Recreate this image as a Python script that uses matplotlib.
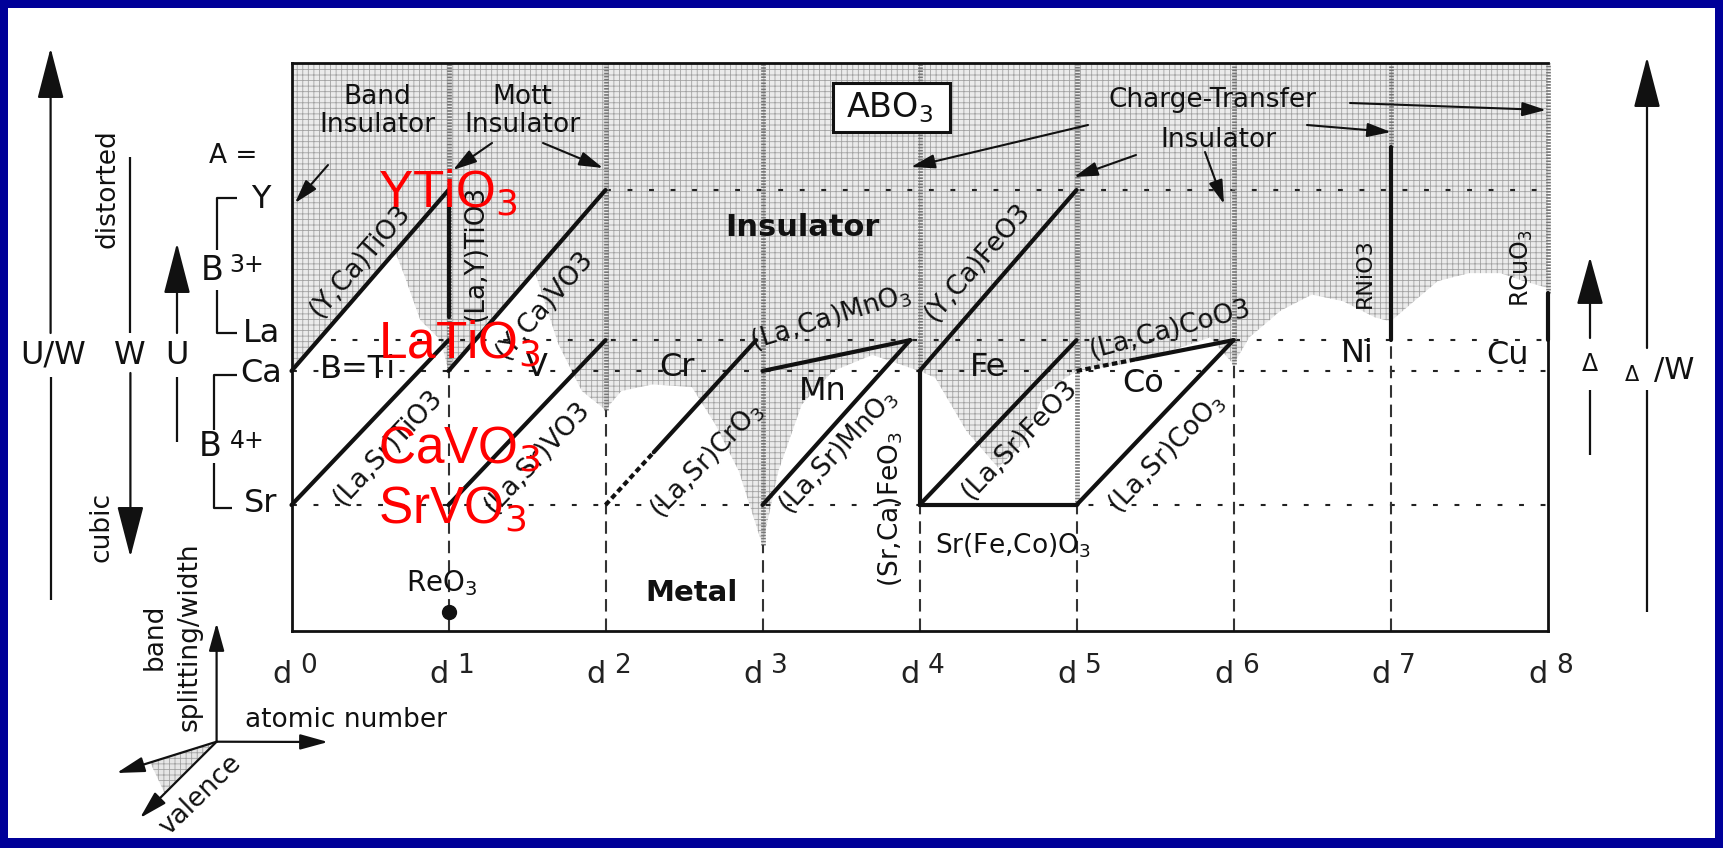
import matplotlib
matplotlib.use("Agg")
import matplotlib.pyplot as plt
from matplotlib.patches import Rectangle, Polygon

plt.rcParams['font.family'] = ['DejaVu Sans']
plt.rcParams['mathtext.fontset'] = 'dejavusans'
plt.rcParams['lines.scale_dashes'] = False
plt.rcParams['hatch.linewidth'] = 0.6

# d electron count along the bottom
d_count = [0, 1, 2, 3, 4, 5, 6, 7, 8]

# A site levels (up = more distorted / smaller band width)
site_names = ['Sr', 'Ca', 'La', 'Y']
site_levels = [0.0, 1.0, 1.23, 2.35]
SR, CA, LA, Y = site_levels

# compound lines, start (d, level) -> end (d, level)
comp_names = ['(Y,Ca)TiO3', '(La,Sr)TiO3', '(La,Y)TiO3', '(Y,Ca)VO3', '(La,Sr)VO3',
              '(La,Sr)CrO3', '(La,Ca)MnO3', '(La,Sr)MnO3', '(Y,Ca)FeO3', '(Sr,Ca)FeO3',
              'Sr(Fe,Co)O3', '(La,Sr)FeO3', '(La,Ca)CoO3', '(La,Sr)CoO3', 'RNiO3', 'RCuO3']
comp_x0 = [0, 0, 1, 1, 1, 2, 3, 3, 4, 4, 4, 4, 5, 5, 7, 8]
comp_y0 = [CA, SR, Y, CA, SR, SR, CA, SR, CA, CA, SR, SR, CA, SR, LA, LA]
comp_x1 = [1, 1, 1, 2, 2, 2.96, 3.94, 3.94, 5, 4, 5, 5, 6, 6, 7, 8]
comp_y1 = [Y, LA, 1.40, Y, LA, LA, LA, LA, Y, SR, SR, LA, LA, LA, 2.67, 1.58]
# fraction of each line (from its start) that is only dashed
comp_dashed = [0, 0, 0, 0, 0, 0.32, 0, 0, 0, 0, 0, 0, 0.38, 0, 0, 0]

# lower edge of the shaded insulator region
ins_x = [0.0, 0.66, 0.72, 0.82, 0.95, 1.0, 1.55, 1.7, 1.85, 2.0, 2.1, 2.3, 2.55, 2.7,
         2.85, 3.0, 3.1, 3.25, 3.45, 3.7, 4.0, 4.1, 4.3, 4.5, 4.65, 4.8, 5.0, 5.3,
         5.6, 5.85, 6.0, 6.1, 6.3, 6.5, 6.7, 6.9, 7.0, 7.1, 7.3, 7.5, 7.7, 7.85, 8.0]
ins_y = [1.0, 1.89, 1.71, 1.38, 1.23, 1.0, 1.74, 1.2, 0.85, 0.71, 0.85, 0.9, 0.88, 0.6,
         0.25, -0.30, 0.25, 0.75, 1.0, 1.12, 1.0, 0.95, 0.55, 0.28, 0.45, 0.85, 1.0, 1.05,
         1.15, 1.25, 1.05, 1.25, 1.45, 1.57, 1.52, 1.40, 1.37, 1.47, 1.67, 1.73, 1.73, 1.67, 1.62]

# d^n separators: insulating (stippled) from the top down to this level, dashed below
sep_x = [1, 2, 3, 4, 5, 6, 7, 8]
sep_gray_to = [1.0, 0.71, -0.30, 1.0, 0.0, 1.05, 2.67, 1.58]

# horizontal guide lines at the A-site levels: where each starts
guide_start = [0, 0, 0.25, 2]

reo3_x, reo3_y = [1], [-0.80]

Y_BOT, Y_TOP = -0.94, 3.30
W, H = 1723, 848

fig = plt.figure(figsize=(W / 100, H / 100), dpi=100)
fig.patch.set_facecolor('#000099')
fig.add_artist(Rectangle((8 / W, 10 / H), (W - 16) / W, (H - 18) / H, transform=fig.transFigure,
                         facecolor='white', edgecolor='none', zorder=-1))

ax = fig.add_axes([291.5 / W, (H - 631) / H, 1256 / W, 568.3 / H])
ax.set_xlim(0, 8)
ax.set_ylim(Y_BOT, Y_TOP)
ax.set_xticks([])
ax.set_yticks([])
ax.patch.set_facecolor('white')
ax.spines['right'].set_visible(False)
for s in ['left', 'top', 'bottom']:
    ax.spines[s].set_linewidth(2.0)
    ax.spines[s].set_color('#111111')
    ax.spines[s].set_zorder(6)

# shaded insulator region
ax.fill(ins_x + [8, 0], ins_y + [Y_TOP, Y_TOP], facecolor='#ebebeb', edgecolor='#a2a2a2',
        hatch='+++', linewidth=0, zorder=1)

# guide lines
for lev, x0 in zip(site_levels, guide_start):
    ax.plot([x0, 8], [lev, lev], color='#222222', lw=1.5, linestyle=(0, (3.5, 12)), zorder=2)

# separators
for x, g in zip(sep_x, sep_gray_to):
    ax.plot([x, x], [g, Y_TOP], color='#777777', lw=3.4, linestyle=(0, (1.2, 1.0)),
            zorder=3, clip_on=False)
    if x < 8:
        ax.plot([x, x], [Y_BOT, g], color='#333333', lw=1.5, linestyle=(0, (9, 5)), zorder=3)
# right edge of the box below the Cu line
ax.plot([8, 8], [Y_BOT, LA], color='#111111', lw=2.0, clip_on=False, zorder=6)

# compound lines
for x0, y0, x1, y1, f in zip(comp_x0, comp_y0, comp_x1, comp_y1, comp_dashed):
    xm = x0 + f * (x1 - x0)
    ym = y0 + f * (y1 - y0)
    if f > 0:
        ax.plot([x0, xm], [y0, ym], color='#111111', lw=3.0, linestyle=(0, (4, 2.5)),
                solid_capstyle='butt', zorder=5, clip_on=False)
    ax.plot([xm, x1], [ym, y1], color='#111111', lw=3.0, solid_capstyle='round',
            zorder=5, clip_on=False)

ax.plot(reo3_x, reo3_y, 'o', color='#111111', ms=10, zorder=5)

# d^n labels under the box
for d in d_count:
    ax.annotate('d', xy=(d, Y_BOT), xytext=(0, -37.4), textcoords='offset points',
                ha='right', va='baseline', fontsize=22, color='#222222', annotation_clip=False)
    ax.annotate(str(d), xy=(d, Y_BOT), xytext=(6.0, -30.2), textcoords='offset points',
                ha='left', va='baseline', fontsize=19, color='#222222', annotation_clip=False)

# everything else is placed in figure pixels
deco = fig.add_axes([0, 0, 1, 1])
deco.set_xlim(0, W)
deco.set_ylim(H, 0)
deco.axis('off')

K = '#111111'


def txt(x, y, s, size=19, rot=0, **kw):
    deco.text(x, y, s, fontsize=size, rotation=rot, rotation_mode='anchor',
              ha=kw.pop('ha', 'center'), va=kw.pop('va', 'center'), color=kw.pop('color', K), **kw)


def arrow(tail, tip, hl=1.45, hw=0.43, lw=1.5):
    deco.annotate('', xy=tip, xytext=tail,
                  arrowprops=dict(arrowstyle='-|>,head_length=%g,head_width=%g' % (hl, hw),
                                  mutation_scale=10, lw=lw, color=K, shrinkA=0, shrinkB=0))


def seg(xs, ys, lw=1.6):
    deco.plot(xs, ys, color=K, lw=lw, solid_capstyle='butt')


# regime labels
txt(377, 111, 'Band\nInsulator', 19, linespacing=1.05)
txt(522, 111, 'Mott\nInsulator', 19, linespacing=1.05)
txt(1212, 100, 'Charge-Transfer', 19)
txt(1218, 140, 'Insulator', 19)
txt(802, 227, 'Insulator', 22, weight='bold')
txt(692, 593, 'Metal', 21, weight='bold')
deco.add_patch(Rectangle((833, 83), 117, 49, facecolor='white', edgecolor=K, lw=2.2, zorder=4))
txt(890, 108, 'ABO$_3$', 24, zorder=5)

arrow((328, 165), (295, 203))
arrow((492, 143), (453, 170))
arrow((543, 143), (603, 168))
arrow((1088, 125), (911, 167))
arrow((1136, 155), (1074, 177))
arrow((1205, 152), (1224, 204))
arrow((1307, 125), (1391, 132))
arrow((1350, 103), (1546, 110))

# element / compound labels
for s, x, y in [('Cr', 677, 368), ('Mn', 823, 392), ('Fe', 988, 367), ('Co', 1143, 383),
                ('Ni', 1357, 353), ('Cu', 1507, 355), ('V', 537, 368), ('B=Ti', 358, 370)]:
    txt(x, y, s, 23)

for s, x, y, r, fs in [('(Y,Ca)TiO3', 360, 261, 49, 19), ('(La,Sr)TiO3', 388, 447, 47, 19),
                       ('(La,Y)TiO3', 476, 253, 90, 19), ('(Y,Ca)VO3', 545, 305, 49, 19),
                       ('(La,Sr)VO3', 537, 457, 47, 19), ('(La,Sr)CrO$_3$', 707, 460, 46, 19),
                       ('(La,Ca)MnO$_3$', 831, 318, 17, 19), ('(La,Sr)MnO$_3$', 838, 452, 47, 19),
                       ('(Sr,Ca)FeO$_3$', 891, 509, 90, 19), ('(Y,Ca)FeO3', 978, 262, 49, 19),
                       ('Sr(Fe,Co)O$_3$', 1013, 546, 0, 19), ('(La,Sr)FeO3', 1020, 440, 46, 19),
                       ('(La,Ca)CoO3', 1170, 330, 15, 19), ('(La,Sr)CoO$_3$', 1167, 453, 46, 19),
                       ('RNiO3', 1365, 273, 90, 16), ('RCuO$_3$', 1522, 268, 90, 17),
                       ('ReO$_3$', 442, 583, 0, 20)]:
    txt(x, y, s, fs, rot=r)

# red highlights
for s, y in [('YTiO$_3$', 207), ('LaTiO$_3$', 358), ('CaVO$_3$', 463), ('SrVO$_3$', 523)]:
    deco.text(378, y, s, fontsize=37, color='red', family='Liberation Sans',
              ha='left', va='baseline', zorder=8)

# left side: A site levels and brackets
for name, yp in zip(site_names, [503, 374, 334, 200]):
    txt(261, yp, name, 23)
txt(233, 156, 'A =', 19)
seg([237, 217, 217], [198, 198, 250])
seg([217, 217, 237], [290, 333, 333])
txt(212, 270, 'B', 24)
txt(247, 265, '3+', 17)
seg([237, 214, 214], [375, 375, 430])
seg([214, 214, 232], [463, 508, 508])
txt(210, 447, 'B', 24)
txt(247, 441, '4+', 17)

# U/W, W, U arrows
arrow((50.6, 333), (50.6, 48), hl=3.2, hw=0.83, lw=1.6)
seg([50.6, 50.6], [377, 600])
txt(53, 355, 'U/W', 23)
seg([130.4, 130.4], [157, 333])
arrow((130.4, 373), (130.4, 557), hl=3.2, hw=0.83, lw=1.6)
txt(130, 355, 'W', 23)
arrow((177, 333), (177, 243), hl=3.2, hw=0.83, lw=1.6)
seg([177, 177], [377, 442])
txt(177, 355, 'U', 23)
txt(108, 189, 'distorted', 19, rot=90)
txt(101, 527, 'cubic', 19, rot=90)

# right side: charge transfer energy
arrow((1590, 338), (1590, 257), hl=3.0, hw=0.83, lw=1.6)
seg([1590, 1590], [390, 455])
txt(1590, 364, 'Δ', 17)
arrow((1647, 348), (1647, 57), hl=3.2, hw=0.83, lw=1.6)
seg([1647, 1647], [390, 612])
txt(1632, 375, 'Δ', 15)
txt(1674, 370, '/W', 22)

# little coordinate system, bottom left
ox, oy = 216.6, 741.7
deco.add_patch(Polygon([(ox, oy), (150, 762), (165, 794)], closed=True, facecolor='#e6e6e6',
                       edgecolor='#a2a2a2', hatch='+++', lw=0))
for tip in [(216.6, 623), (328, 742), (140, 818), (116.6, 773)]:
    arrow((ox, oy), tip, hl=1.7, hw=0.47, lw=1.6)
txt(172, 637, 'band\nsplitting/width', 19, rot=90, linespacing=1.45, multialignment='center')
txt(346, 720, 'atomic number', 19)
txt(200, 795, 'valence', 19, rot=44)

fig.savefig('out.png', dpi=100, facecolor=fig.get_facecolor())
